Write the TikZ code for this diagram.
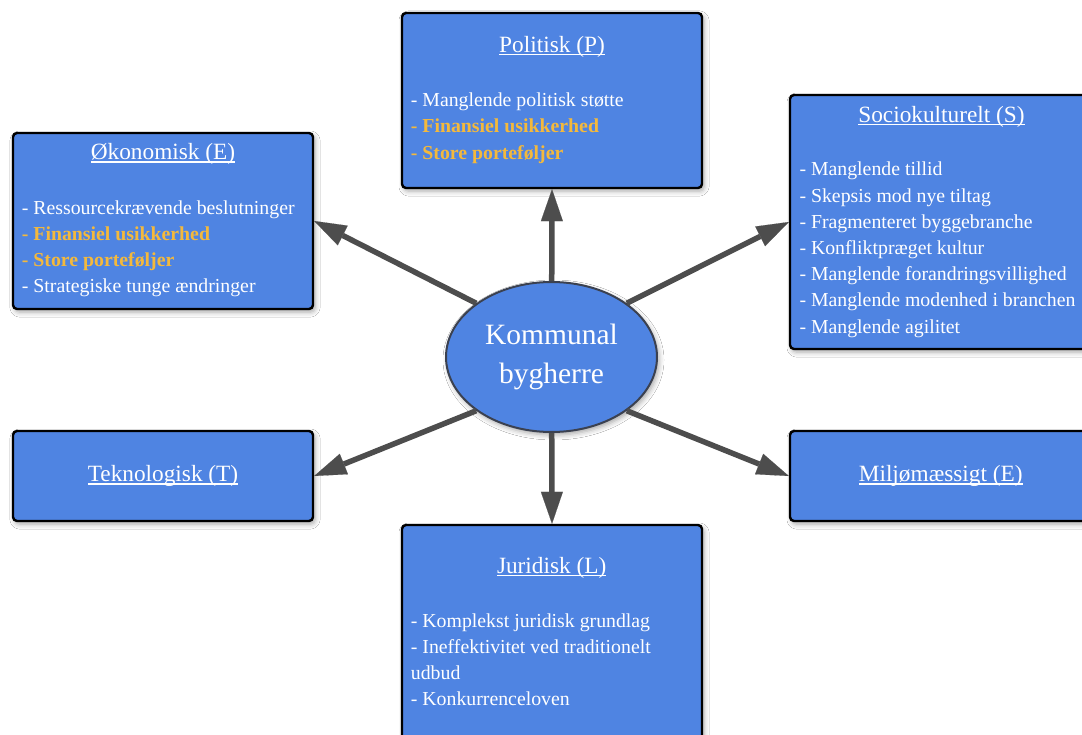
\documentclass[tikz,border=0pt]{standalone}
\usepackage{fontspec}
\setmainfont{Liberation Serif}
\usetikzlibrary{shapes.geometric,arrows.meta,shadows.blur}

\definecolor{boxblue}{HTML}{4F84E2}
\definecolor{accent}{HTML}{F4B93C}
\definecolor{arrowgray}{HTML}{4D4D4D}
\definecolor{rimgray}{HTML}{3B4150}

% underlined heading with a rule a little below the baseline
\newcommand\hdr[1]{\setbox0=\hbox{#1}\rlap{\rule[-2.8pt]{\wd0}{1.3pt}}\box0}
% highlighted (bold, amber) list entry
\newcommand\hl[1]{\textcolor{accent}{\textbf{- #1}}}

\begin{document}
\begin{tikzpicture}[x=1pt,y=-1pt,
  box/.style={draw=black, line width=2.4pt, rounded corners=4pt, fill=boxblue,
    minimum width=300pt, inner sep=0pt,
    blur shadow={shadow xshift=2pt, shadow yshift=-3pt, shadow blur radius=5pt, shadow opacity=35}},
  hub/.style={ellipse, draw=rimgray, line width=2pt, fill=boxblue, text=white,
    minimum width=211pt, minimum height=150pt, inner sep=0pt, align=center,
    font=\fontsize{29.5}{39.4}\selectfont,
    blur shadow={shadow xshift=2pt, shadow yshift=-3pt, shadow blur radius=5pt, shadow opacity=35}},
  title/.style={text=white, anchor=base, inner sep=0pt, font=\fontsize{23.3}{28}\selectfont},
  items/.style={text=white, anchor=base west, inner sep=0pt, font=\fontsize{19.8}{26.2}\selectfont},
  link/.style={draw=arrowgray, line width=5.5pt,
    -{Triangle[length=32pt,width=22pt,line width=0.1pt]}}
]
\path[use as bounding box, clip] (0,0) rectangle (1082,735);
\fill[white] (0,0) rectangle (1082,735);

% factor boxes
\node[box, minimum height=175pt] (pol) at (552,100.5) {};
\node[box, minimum height=176pt] (oko) at (163,221) {};
\node[box, minimum height=254pt] (soc) at (940,222) {};
\node[box, minimum height=90pt]  (tek) at (163,476) {};
\node[box, minimum height=90pt]  (mil) at (940,476) {};
\node[box, minimum height=240pt] (jur) at (552,645) {};

% centre
\node[hub] (hub) at (551.5,357) {Kommunal\\bygherre};

% headings
\node[title] (polT) at (552,52.7)   {\hdr{Politisk (P)}};
\node[title] (okoT) at (163,160)    {\hdr{Økonomisk (E)}};
\node[title] (socT) at (941.5,122.3){\hdr{Sociokulturelt (S)}};
\node[title] (tekT) at (163,481.7)  {\hdr{Teknologisk (T)}};
\node[title] (milT) at (940.7,481.7){\hdr{Miljømæssigt (E)}};
\node[title] (jurT) at (551.7,573.3){\hdr{Juridisk (L)}};

% lists
\node[items] (polL) at (410.7,106.7) {\begin{tabular}[t]{@{}l@{}}
- Manglende politisk støtte\\
\hl{Finansiel usikkerhed}\\
\hl{Store porteføljer}
\end{tabular}};
\node[items] (okoL) at (21.7,214.3) {\begin{tabular}[t]{@{}l@{}}
- Ressourcekrævende beslutninger\\
\hl{Finansiel usikkerhed}\\
\hl{Store porteføljer}\\
- Strategiske tunge ændringer
\end{tabular}};
\node[items] (socL) at (799.3,176) {\begin{tabular}[t]{@{}l@{}}
- Manglende tillid\\
- Skepsis mod nye tiltag\\
- Fragmenteret byggebranche\\
- Konfliktpræget kultur\\
- Manglende forandringsvillighed\\
- Manglende modenhed i branchen\\
- Manglende agilitet
\end{tabular}};
\node[items] (jurL) at (410.7,627.3) {\begin{tabular}[t]{@{}l@{}}
- Komplekst juridisk grundlag\\
- Ineffektivitet ved traditionelt\\
udbud\\
- Konkurrenceloven
\end{tabular}};

% connectors
\draw[link] (hub) -- (pol.south);
\draw[link] (hub) -- (jur.north);
\draw[link] (hub.north west) -- (oko.east);
\draw[link] (hub.north east) -- (soc.west);
\draw[link] (hub.south west) -- (tek.east);
\draw[link] (hub.south east) -- (mil.west);
\end{tikzpicture}
\end{document}
